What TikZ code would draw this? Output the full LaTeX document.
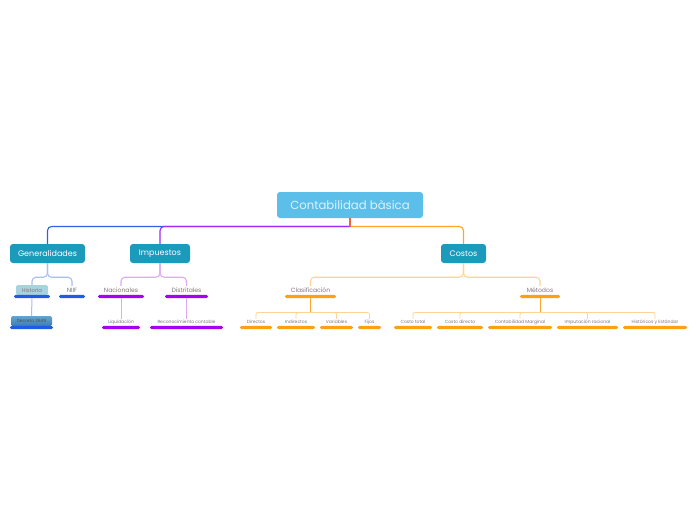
\documentclass[tikz,border=0pt]{standalone}
\usepackage{fontspec}
\setmainfont{Poppins}
\definecolor{rootc}{HTML}{5BBFEA}
\definecolor{boxc}{HTML}{1A9BBC}
\definecolor{bluec}{HTML}{2F62E0}
\definecolor{lbluec}{HTML}{A6C0F6}
\definecolor{ublue}{HTML}{1E5CE6}
\definecolor{purc}{HTML}{9B2EF2}
\definecolor{lpurc}{HTML}{DCAAF6}
\definecolor{upur}{HTML}{A500F2}
\definecolor{orc}{HTML}{FFA42C}
\definecolor{lorc}{HTML}{FFD396}
\definecolor{uor}{HTML}{FFA010}
\definecolor{stubc}{HTML}{E8643A}
\definecolor{txtg}{HTML}{7A7A7A}
\definecolor{histc}{HTML}{A9D3DC}
\definecolor{decc}{HTML}{3F8CC4}
\begin{document}
\begin{tikzpicture}[x=1pt,y=-1pt,
  rootbox/.style={rounded corners=3pt,fill=rootc,text=white!80!rootc,minimum width=146pt,minimum height=26pt,font=\fontsize{11.7}{13}\selectfont,inner sep=0pt},
  mainbox/.style={rounded corners=3pt,fill=boxc,text=white,minimum height=19pt,font=\fontsize{8}{9}\selectfont,inner sep=0pt},
  midtxt/.style={text=txtg,font=\fontsize{6.1}{7}\selectfont,inner sep=0pt,minimum height=8pt},
  leaftxt/.style={text=txtg,font=\fontsize{4.5}{5}\selectfont,inner sep=0pt,minimum height=6pt},
  ubar/.style={rounded corners=1.4pt,minimum height=3.2pt,inner sep=0pt},
  conn/.style={line width=1.1pt,rounded corners=4pt},
]
\useasboundingbox (0,0) rectangle (696,520);
\fill[white] (0,0) rectangle (696,520);

% main nodes
\node[rootbox] (root) at (350,205) {Contabilidad bàsica};
\node[mainbox,minimum width=75pt] (gen) at (47.5,253.5) {Generalidades};
\node[mainbox,minimum width=60pt] (imp) at (160,253.5) {Impuestos};
\node[mainbox,minimum width=45pt] (cos) at (463.5,253.5) {Costos};

% root connectors
\coordinate (rj) at (350,226.5);
\draw[conn,bluec] (rj) -| (gen.north);
\draw[conn,purc] (rj) -| (imp.north);
\draw[conn,orc] (rj) -| (cos.north);
\draw[line width=1.1pt,stubc] (root.south) -- (rj);

% Generalidades branch
\node[rounded corners=1.5pt,fill=histc,text=txtg,minimum width=32pt,minimum height=10pt,inner sep=0pt,font=\fontsize{5.4}{6}\selectfont] (hist) at (32,290) {Historia};
\node[ubar,fill=ublue,minimum width=36pt] (histU) at (32,296.5) {};
\node[midtxt] (niif) at (72,290) {NIIF};
\node[ubar,fill=ublue,minimum width=26pt] (niifU) at (72,296.5) {};
\node[rounded corners=1.5pt,top color=decc!80!white,bottom color=decc!90!black,text=black!70,minimum width=41pt,minimum height=10pt,inner sep=0pt,font=\fontsize{4.4}{5}\selectfont] (dec) at (31.5,321) {Decreto 2649};
\node[ubar,fill=ublue,minimum width=43pt] (decU) at (31.5,327.5) {};
\draw[conn,lbluec] (gen.south) -- ++(0,14) -| (hist.north);
\draw[conn,lbluec] (gen.south) -- ++(0,14) -| (niif.north);
\draw[line width=1pt,lbluec] (histU.south) -- (dec.north);

% Impuestos branch
\node[midtxt] (nac) at (121,290) {Nacionales};
\node[ubar,fill=upur,minimum width=46pt] (nacU) at (121,296.5) {};
\node[midtxt] (dis) at (186.5,290) {Distritales};
\node[ubar,fill=upur,minimum width=43pt] (disU) at (186.5,296.5) {};
\node[leaftxt] (liq) at (121,322) {Liquidación};
\node[ubar,fill=upur,minimum width=38pt] (liqU) at (121,327.5) {};
\node[leaftxt] (rec) at (186.5,322) {Reconocimiento contable};
\node[ubar,fill=upur,minimum width=73pt] (recU) at (186.5,327.5) {};
\draw[conn,lpurc] (imp.south) -- ++(0,14) -| (nac.north);
\draw[conn,lpurc] (imp.south) -- ++(0,14) -| (dis.north);
\draw[line width=1pt,lpurc] (nacU.south) -- (liq.north);
\draw[line width=1pt,lpurc] (disU.south) -- (rec.north);

% Costos branch
\node[midtxt] (cla) at (310.5,290) {Clasificación};
\node[ubar,fill=uor,minimum width=51pt] (claU) at (310.5,296.5) {};
\node[midtxt] (met) at (540,290) {Métodos};
\node[ubar,fill=uor,minimum width=40pt] (metU) at (540,296.5) {};
\draw[conn,lorc] (cos.south) -- ++(0,14) -| (cla.north);
\draw[conn,lorc] (cos.south) -- ++(0,14) -| (met.north);

\node[leaftxt] (dir) at (256,322) {Directos};
\node[ubar,fill=uor,minimum width=32pt] (dirU) at (256,327.5) {};
\node[leaftxt] (ind) at (296,322) {Indirectos};
\node[ubar,fill=uor,minimum width=38pt] (indU) at (296,327.5) {};
\node[leaftxt] (var) at (336.5,322) {Variables};
\node[ubar,fill=uor,minimum width=33pt] (varU) at (336.5,327.5) {};
\node[leaftxt] (fij) at (369.5,322) {Fijos};
\node[ubar,fill=uor,minimum width=23pt] (fijU) at (369.5,327.5) {};
\coordinate (claJ) at (310.5,312.5);
\draw[line width=1pt,orc] (claU.south) -- (claJ);
\foreach \n in {dir,ind,var,fij}{\draw[line width=0.8pt,lorc,rounded corners=2pt] (claJ) -| (\n.north);}

\node[leaftxt] (ctot) at (413,322) {Costo total};
\node[ubar,fill=uor,minimum width=38pt] (ctotU) at (413,327.5) {};
\node[leaftxt] (cdir) at (460,322) {Costo directo};
\node[ubar,fill=uor,minimum width=46pt] (cdirU) at (460,327.5) {};
\node[leaftxt] (cmar) at (520,322) {Contabilidad Marginal};
\node[ubar,fill=uor,minimum width=64pt] (cmarU) at (520,327.5) {};
\node[leaftxt] (irac) at (587.5,322) {Imputación racional};
\node[ubar,fill=uor,minimum width=61pt] (iracU) at (587.5,327.5) {};
\node[leaftxt] (hie) at (655,322) {Históricos y Estándar};
\node[ubar,fill=uor,minimum width=64pt] (hieU) at (655,327.5) {};
\coordinate (metJ) at (540,312.5);
\draw[line width=1pt,orc] (metU.south) -- (metJ);
\foreach \n in {ctot,cdir,cmar,irac,hie}{\draw[line width=0.8pt,lorc,rounded corners=2pt] (metJ) -| (\n.north);}
\end{tikzpicture}
\end{document}
